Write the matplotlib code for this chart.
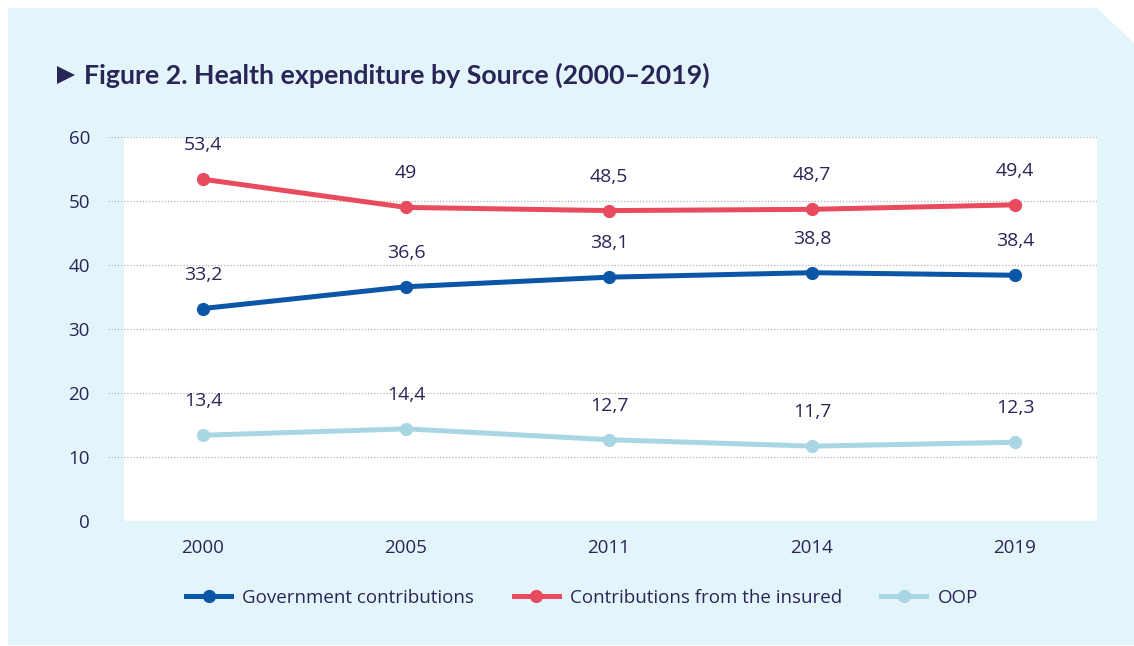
import matplotlib.pyplot as plt
from matplotlib.patches import Polygon, Rectangle
from matplotlib.lines import Line2D

years = ["2000", "2005", "2011", "2014", "2019"]
government = [33.2, 36.6, 38.1, 38.8, 38.4]
insured = [53.4, 49, 48.5, 48.7, 49.4]
oop = [13.4, 14.4, 12.7, 11.7, 12.3]
series_names = ["Government contributions", "Contributions from the insured", "OOP"]

navy = "#2a2557"
colors = ["#0b56a6", "#e84b5e", "#a9d6e3"]
panel_bg = "#e3f4fb"

W, H = 1134, 646
fig = plt.figure(figsize=(W / 100, H / 100), dpi=100)
plt.rcParams['font.family'] = ['Open Sans', 'DejaVu Sans']

# panel with cut top-right corner (pixel coords -> figure fraction)
def px(x, y):
    return (x / W, 1 - y / H)

panel = Polygon([px(8, 8), px(1097, 8), px(1134, 43), px(1134, 645), px(8, 645)],
                closed=True, transform=fig.transFigure, facecolor=panel_bg,
                edgecolor="none", zorder=-2)
fig.patches.append(panel)
x0, y0 = px(124, 521)
x1, y1 = px(1097, 137)
fig.patches.append(Rectangle((x0, y0), x1 - x0, y1 - y0, transform=fig.transFigure,
                             facecolor="white", edgecolor="none", zorder=-1))

# title
fig.patches.append(Polygon([px(57, 66), px(75, 75), px(57, 84)], closed=True,
                           transform=fig.transFigure, facecolor=navy, edgecolor="none"))
fig.text(84 / W, 1 - 75 / H, "Figure 2. Health expenditure by Source (2000\u20132019)",
         fontsize=19.3, fontweight="bold", color=navy, va="center", ha="left",
         family=["Lato", "DejaVu Sans"])

left, right = 108 / W, 1097 / W
bottom, top = 1 - 521 / H, 1 - 137 / H
ax = fig.add_axes([left, bottom, right - left, top - bottom])
ax.patch.set_alpha(0)
xs = list(range(len(years)))
ax.set_xlim((108 - 203) / 203, (1097 - 203) / 203)
ax.set_ylim(0, 60)
ax.set_yticks(range(0, 61, 10))
ax.set_xticks(xs)
ax.set_xticklabels(years)
for s in ax.spines.values():
    s.set_visible(False)
ax.grid(axis="y", color="#b5b5b5", linestyle=(0, (1, 1.5)), linewidth=0.9)
ax.set_axisbelow(True)
ax.tick_params(length=0, labelsize=13.5, colors=navy)
ax.tick_params(axis="y", pad=13)
ax.tick_params(axis="x", pad=13)

for vals, c in zip([government, insured, oop], colors):
    ax.plot(xs, vals, color=c, lw=3.6, marker="o", ms=8.5, zorder=3,
            solid_capstyle="round")
    for x, v in zip(xs, vals):
        ax.annotate(f"{v:g}".replace(".", ","), (x, v), xytext=(0, 18),
                    textcoords="offset points", ha="center", va="bottom",
                    fontsize=14, color=navy)

handles = [Line2D([], [], color=c, lw=3.6, marker="o", ms=8.5) for c in colors]
fig.legend(handles, series_names, loc="center", bbox_to_anchor=(582 / W, 1 - 598 / H),
           ncol=3, frameon=False, fontsize=13.5, labelcolor=navy, handlelength=2.4,
           handletextpad=0.6, columnspacing=2.1)

fig.savefig("out.png", dpi=100)
